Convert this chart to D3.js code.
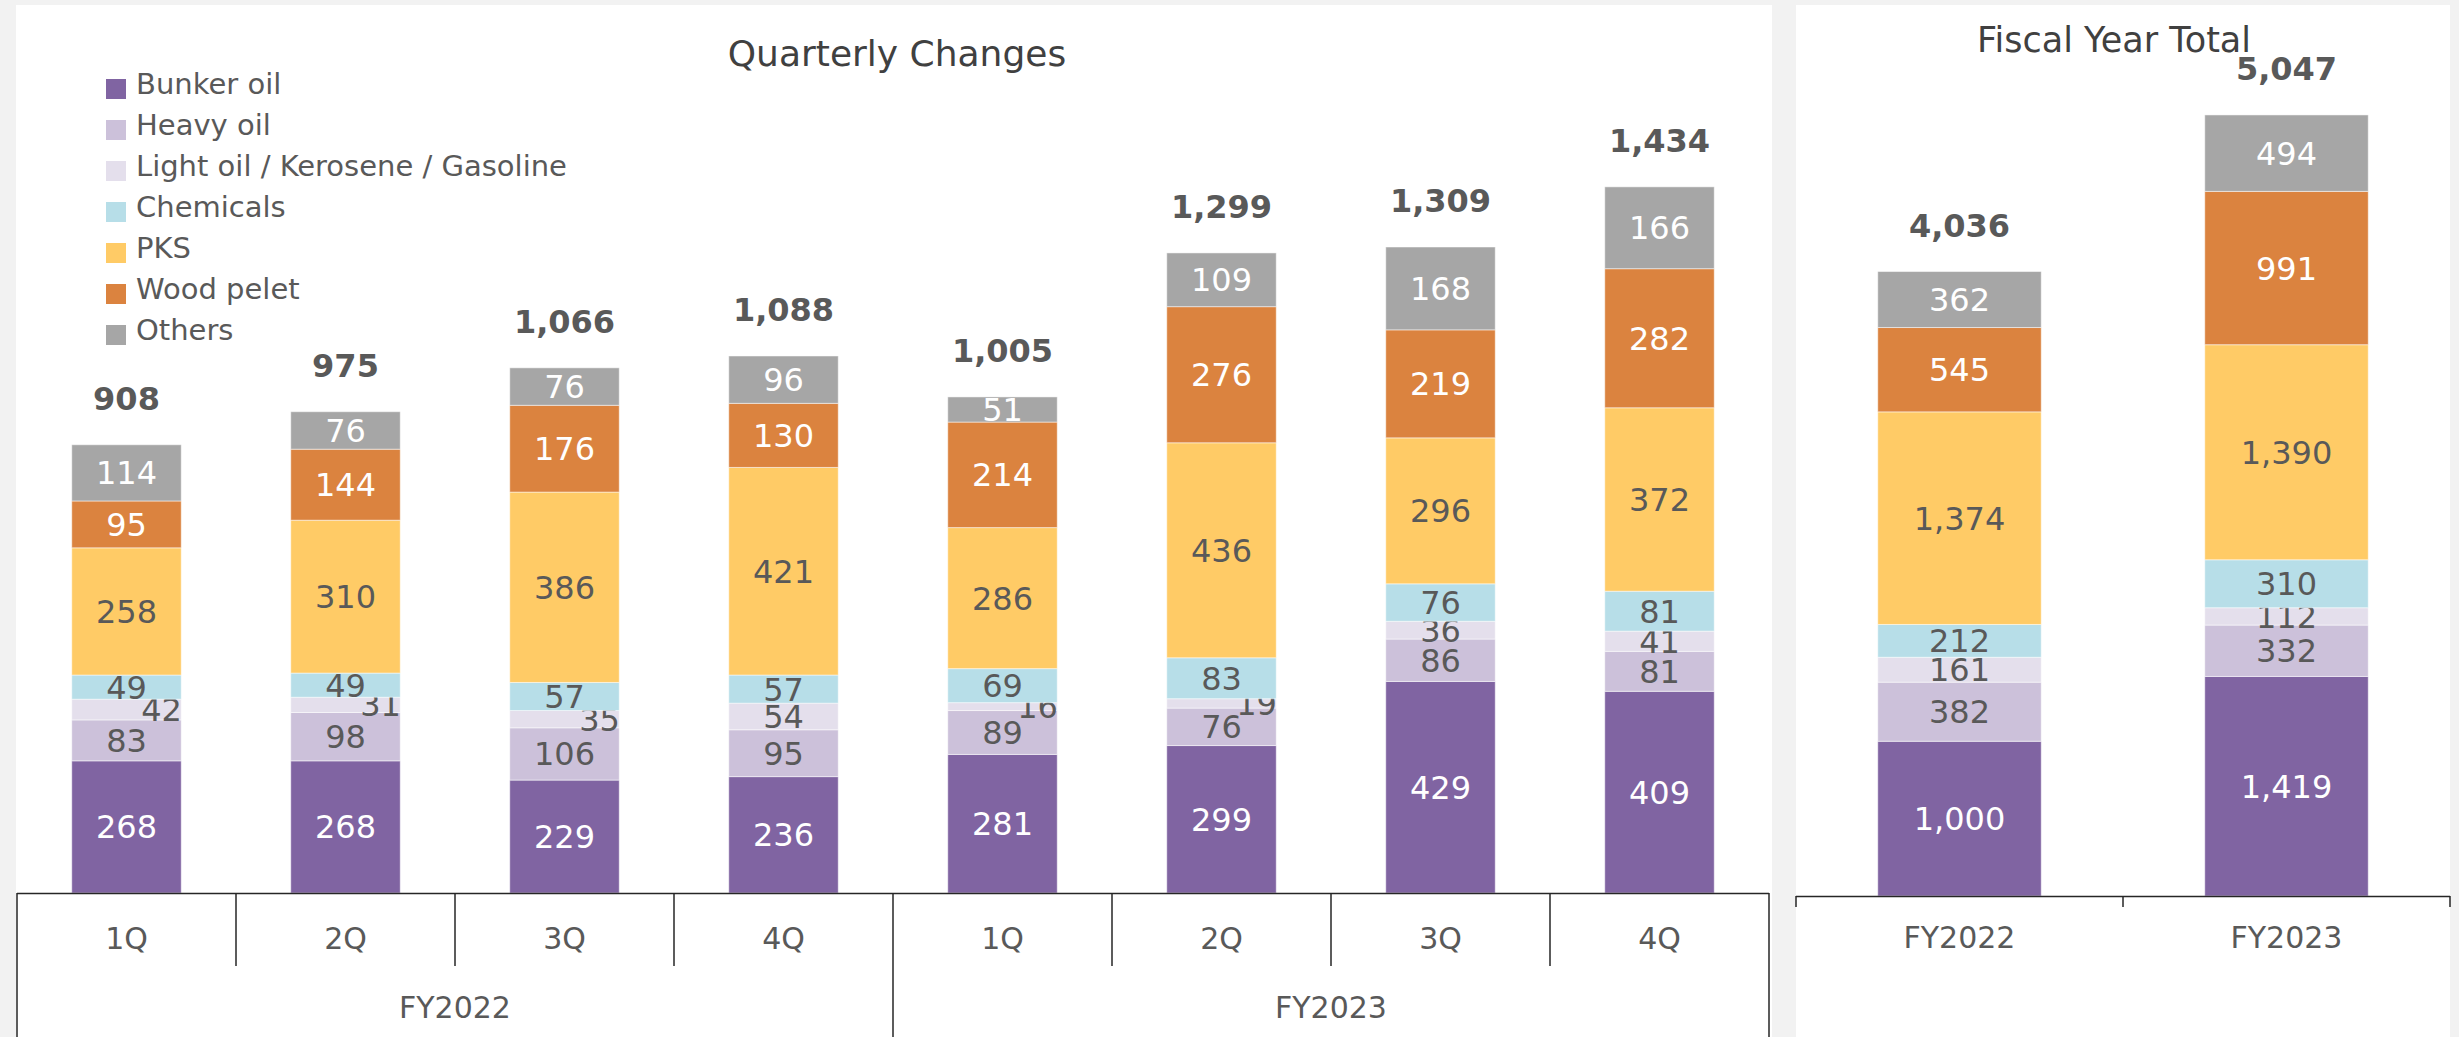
<!DOCTYPE html>
<html>
<head>
<meta charset="utf-8">
<script src="https://cdn.jsdelivr.net/npm/d3@7"></script>
<style>
  html, body { margin: 0; padding: 0; background: #f2f2f2; }
  svg { display: block; font-family: "DejaVu Sans", Verdana, sans-serif; }
</style>
</head>
<body>
<div id="graphic"></div>
<script>
// Series names (bottom to top of each stack)
const seriesNames = ['Bunker oil', 'Heavy oil', 'Light oil / Kerosene / Gasoline', 'Chemicals', 'PKS', 'Wood pelet', 'Others'];

// Quarterly categories
const quarters = ['1Q', '2Q', '3Q', '4Q', '1Q', '2Q', '3Q', '4Q'];
const quarterYears = ['FY2022', 'FY2022', 'FY2022', 'FY2022', 'FY2023', 'FY2023', 'FY2023', 'FY2023'];
const fiscalYears = ['FY2022', 'FY2023'];

// Quarterly values per series
const bunkerOil = [268, 268, 229, 236, 281, 299, 429, 409];
const heavyOil  = [83, 98, 106, 95, 89, 76, 86, 81];
const lightOil  = [42, 31, 35, 54, 16, 19, 36, 41];
const chemicals = [49, 49, 57, 57, 69, 83, 76, 81];
const pks       = [258, 310, 386, 421, 286, 436, 296, 372];
const woodPelet = [95, 144, 176, 130, 214, 276, 219, 282];
const others    = [114, 76, 76, 96, 51, 109, 168, 166];
const quarterTotals = [908, 975, 1066, 1088, 1005, 1299, 1309, 1434];

// Fiscal year totals per series (same order as seriesNames)
const fy2022 = [1000, 382, 161, 212, 1374, 545, 362];
const fy2023 = [1419, 332, 112, 310, 1390, 991, 494];
const yearTotals = [4036, 5047];

// Styling
const colors = ['#8064a2', '#ccc1da', '#e4dfec', '#b7dee8', '#ffcb66', '#db833f', '#a6a6a6'];
const whiteLabel = [true, false, false, false, false, true, true];
const textColor = '#595959';
// Light oil labels that Excel pushed to the right of the bar
const nudgedLight = [0, 1, 2, 4, 5];

let width = 2459, height = 1037;

let svg = d3.select('#graphic').append('svg')
    .attr('width', width)
    .attr('height', height);

svg.append('rect').attr('width', width).attr('height', height).attr('fill', '#f2f2f2');

// Panels
svg.append('rect').attr('x', 16).attr('y', 5).attr('width', 1756).attr('height', height - 5).attr('fill', '#fff');
svg.append('rect').attr('x', 1796).attr('y', 5).attr('width', 654).attr('height', height - 5).attr('fill', '#fff');

let keys = d3.range(seriesNames.length);

// ---------- Quarterly panel ----------
let quarterRows = quarters.map((q, i) => {
    let vals = [bunkerOil[i], heavyOil[i], lightOil[i], chemicals[i], pks[i], woodPelet[i], others[i]];
    let row = { idx: i };
    keys.forEach(k => row[k] = vals[k]);
    return row;
});

let xq = d3.scaleBand().domain(d3.range(quarters.length)).range([17, 1769]);
let yq = d3.scaleLinear().domain([0, 1600]).range([893, 104]);

drawStacks(quarterRows, i => xq(i), xq.bandwidth(), yq, quarterTotals, true);

// Title
svg.append('text')
    .attr('x', 897).attr('y', 66)
    .attr('text-anchor', 'middle')
    .style('font-size', '36px')
    .attr('fill', '#404040')
    .text('Quarterly Changes');

// Legend
let legend = svg.append('g');
seriesNames.forEach((name, i) => {
    legend.append('rect')
        .attr('x', 106).attr('y', 79 + i * 41)
        .attr('width', 20).attr('height', 20)
        .attr('fill', colors[i]);
    legend.append('text')
        .attr('x', 136).attr('y', 94 + i * 41)
        .style('font-size', '29px')
        .attr('fill', textColor)
        .text(name);
});

// Quarterly axis: baseline, separators, labels
let axisColor = '#262626';
let qAxis = svg.append('g');
qAxis.append('line')
    .attr('x1', xq.range()[0]).attr('x2', xq.range()[1])
    .attr('y1', 893.5).attr('y2', 893.5)
    .attr('stroke', axisColor).attr('stroke-width', 1.5);

d3.range(quarters.length + 1).forEach(k => {
    let x = xq.range()[0] + k * xq.bandwidth();
    let yearEdge = (k % 4 === 0);
    qAxis.append('line')
        .attr('x1', x).attr('x2', x)
        .attr('y1', 893).attr('y2', yearEdge ? height : 966)
        .attr('stroke', axisColor).attr('stroke-width', 1.5);
});

quarters.forEach((q, i) => {
    qAxis.append('text')
        .attr('x', xq(i) + xq.bandwidth() / 2).attr('y', 949)
        .attr('text-anchor', 'middle')
        .style('font-size', '30px')
        .attr('fill', textColor)
        .text(q);
});

fiscalYears.forEach(fy => {
    let idx = quarterYears.map((y, i) => y === fy ? i : -1).filter(i => i >= 0);
    let x0 = xq(idx[0]), x1 = xq(idx[idx.length - 1]) + xq.bandwidth();
    qAxis.append('text')
        .attr('x', (x0 + x1) / 2).attr('y', 1018)
        .attr('text-anchor', 'middle')
        .style('font-size', '30px')
        .attr('fill', textColor)
        .text(fy);
});

// ---------- Fiscal year panel ----------
let yearRows = [fy2022, fy2023].map((vals, i) => {
    let row = { idx: i };
    keys.forEach(k => row[k] = vals[k]);
    return row;
});

let xy = d3.scaleBand().domain(d3.range(fiscalYears.length)).range([1796, 2450]);
let yy = d3.scaleLinear().domain([0, 5500]).range([896, 45]);

drawStacks(yearRows, i => xy(i), xy.bandwidth(), yy, yearTotals, false);

svg.append('text')
    .attr('x', 2114).attr('y', 52)
    .attr('text-anchor', 'middle')
    .style('font-size', '35px')
    .attr('fill', '#404040')
    .text('Fiscal Year Total');

let yAxis = svg.append('g');
yAxis.append('line')
    .attr('x1', xy.range()[0]).attr('x2', xy.range()[1])
    .attr('y1', 896.5).attr('y2', 896.5)
    .attr('stroke', axisColor).attr('stroke-width', 1.5);
d3.range(fiscalYears.length + 1).forEach(k => {
    let x = xy.range()[0] + k * xy.bandwidth();
    yAxis.append('line')
        .attr('x1', x).attr('x2', x)
        .attr('y1', 896).attr('y2', 907)
        .attr('stroke', axisColor).attr('stroke-width', 1.5);
});
fiscalYears.forEach((fy, i) => {
    yAxis.append('text')
        .attr('x', xy(i) + xy.bandwidth() / 2).attr('y', 948)
        .attr('text-anchor', 'middle')
        .style('font-size', '30px')
        .attr('fill', textColor)
        .text(fy);
});

// ---------- shared stacked bar drawing ----------
function drawStacks(rows, xPos, band, y, totals, quarterly)
{
    let stacked = d3.stack().keys(keys)(rows);
    let barW = band * 0.5;
    let fmt = d3.format(',');

    stacked.forEach((layer, k) => {
        let g = svg.append('g');

        g.selectAll('rect')
            .data(layer)
            .join('rect')
            .attr('x', d => xPos(d.data.idx) + (band - barW) / 2)
            .attr('y', d => y(d[1]))
            .attr('width', barW)
            .attr('height', d => y(d[0]) - y(d[1]))
            .attr('fill', colors[k])
            .attr('stroke', '#fff')
            .attr('stroke-opacity', 0.5)
            .attr('stroke-width', 1);

        g.selectAll('text')
            .data(layer)
            .join('text')
            .attr('x', d => {
                let cx = xPos(d.data.idx) + band / 2;
                if(quarterly && k === 2 && nudgedLight.includes(d.data.idx)) cx += 35;
                return cx;
            })
            .attr('y', d => (y(d[0]) + y(d[1])) / 2)
            .attr('dy', '0.36em')
            .attr('text-anchor', 'middle')
            .style('font-size', '32px')
            .attr('fill', whiteLabel[k] ? '#fff' : textColor)
            .text(d => fmt(d.data[k]));
    });

    // Totals above each bar
    let top = stacked[stacked.length - 1];
    svg.append('g').selectAll('text')
        .data(top)
        .join('text')
        .attr('x', d => xPos(d.data.idx) + band / 2)
        .attr('y', d => y(d[1]) - 35)
        .attr('text-anchor', 'middle')
        .style('font-size', '32px')
        .style('font-weight', 'bold')
        .attr('fill', textColor)
        .text((d, i) => fmt(totals[i]));
}
</script>
</body>
</html>
